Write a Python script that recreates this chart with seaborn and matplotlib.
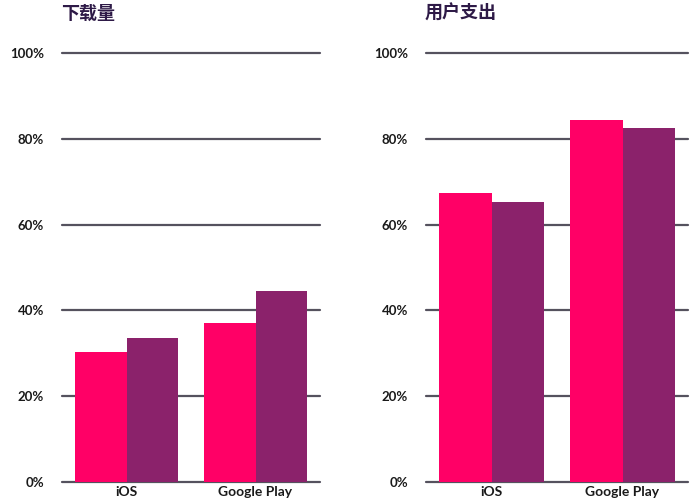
import matplotlib
matplotlib.use("Agg")
import matplotlib.pyplot as plt
import seaborn as sns
import pandas as pd

platforms = ["iOS", "Google Play"]
series_names = ["A", "B"]
downloads_a = [30.4, 37.1]
downloads_b = [33.6, 44.5]
spend_a = [67.3, 84.3]
spend_b = [65.2, 82.5]
titles = ["下载量", "用户支出"]
yticks = [0, 20, 40, 60, 80, 100]
ytick_labels = ["0%", "20%", "40%", "60%", "80%", "100%"]
colors = ["#FF0066", "#8B226B"]

sns.set_theme(style="white")
plt.rcParams["font.family"] = ["Noto Sans CJK SC", "DejaVu Sans"]

def make_df(a, b):
    rows = []
    for p, va, vb in zip(platforms, a, b):
        rows.append({"platform": p, "series": series_names[0], "value": va})
        rows.append({"platform": p, "series": series_names[1], "value": vb})
    return pd.DataFrame(rows)

fig = plt.figure(figsize=(7, 5), dpi=100)
bottom_px, top_px = 482, 53
h = (bottom_px - top_px) / 500
b = (500 - bottom_px) / 500
ax1 = fig.add_axes([62/700, b, 258/700, h])
ax2 = fig.add_axes([426/700, b, 262/700, h])

for ax, (va, vb), title in zip([ax1, ax2], [(downloads_a, downloads_b), (spend_a, spend_b)], titles):
    df = make_df(va, vb)
    ax.set_axisbelow(True)
    for y in yticks:
        ax.axhline(y, color="#55525e", linewidth=1.6, zorder=0, clip_on=False)
    sns.barplot(data=df, x="platform", y="value", hue="series", palette=colors,
                saturation=1, width=0.8, ax=ax, legend=False, zorder=2)
    ax.set_ylim(0, 100)
    ax.set_xlim(-0.5, 1.5)
    ax.set_yticks(yticks)
    ax.set_yticklabels(ytick_labels, fontweight="bold", fontsize=9.5, color="#1a1a1a",
                       family=["Lato"])
    ax.tick_params(axis="y", length=0, pad=13)
    ax.tick_params(axis="x", length=0, pad=3)
    for lbl in ax.get_xticklabels():
        lbl.set_fontweight("bold")
        lbl.set_fontsize(10)
        lbl.set_family(["Lato"])
        lbl.set_color("#1a1a1a")
    ax.set_xlabel("")
    ax.set_ylabel("")
    for s in ax.spines.values():
        s.set_visible(False)
    for patch in ax.patches:
        patch.set_edgecolor("none")
    ax.text(-0.005, 1.0 + 30/((bottom_px - top_px)), title, transform=ax.transAxes,
            ha="left", va="bottom", fontsize=13, fontweight="bold", color="#2e1a47")

fig.savefig("out.png", dpi=100, facecolor="white")
